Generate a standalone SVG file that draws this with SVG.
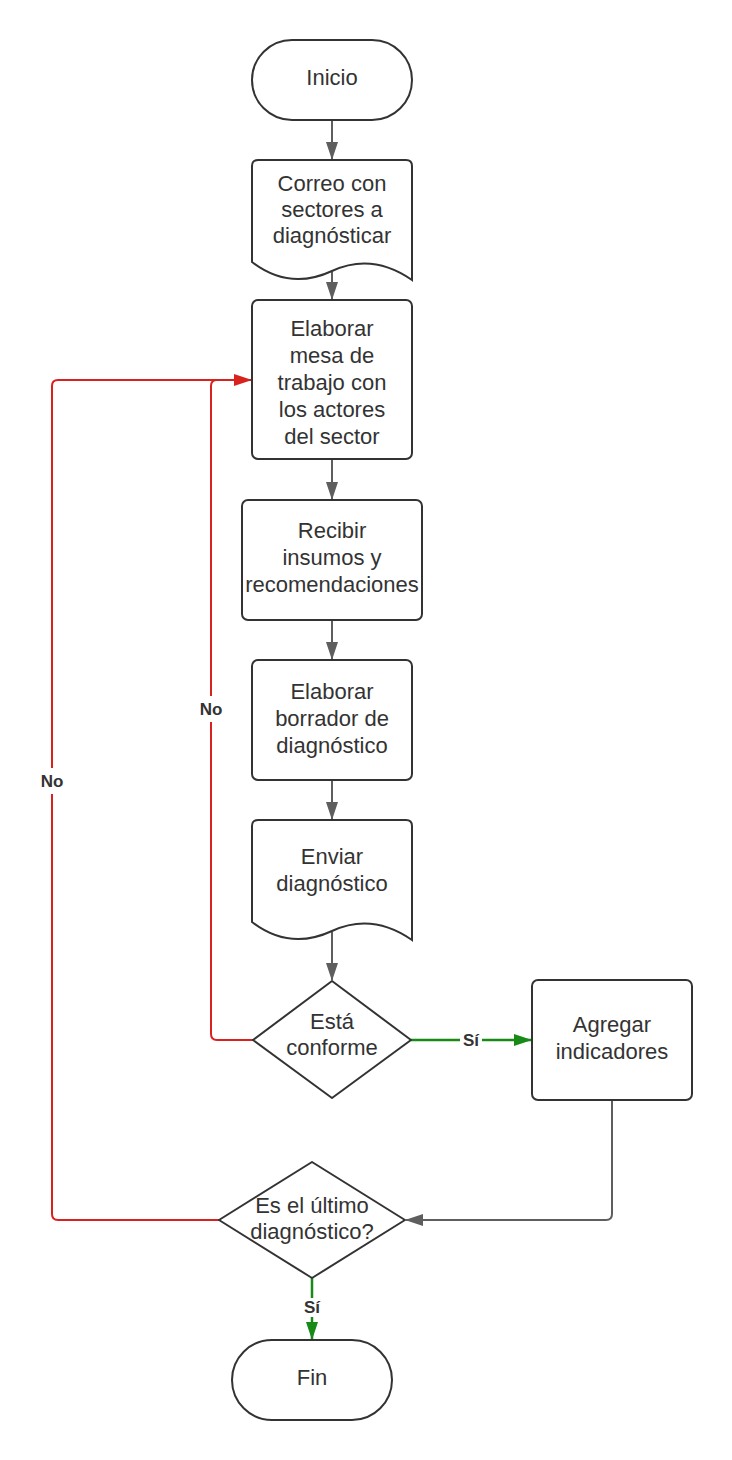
<svg xmlns="http://www.w3.org/2000/svg" width="732" height="1460" viewBox="0 0 732 1460">
<style>
.n{fill:#fff;stroke:#333;stroke-width:2}
.t{font-family:"Liberation Sans",Arial,sans-serif;font-size:22px;fill:#333;text-anchor:middle}
.l{font-family:"Liberation Sans",Arial,sans-serif;font-size:17px;font-weight:bold;fill:#333;text-anchor:middle}
.g{fill:none;stroke:#5e5e5e;stroke-width:2}
.r{fill:none;stroke:#d9221e;stroke-width:2}
.v{fill:none;stroke:#188a18;stroke-width:2.5}
</style>
<defs>
<marker id="ar" markerWidth="18" markerHeight="12" refX="17" refY="6" orient="auto" markerUnits="userSpaceOnUse" viewBox="0 0 18 12"><path d="M0,0 L18,6 L0,12 Z" fill="#d9221e"/></marker>
<marker id="av" markerWidth="18" markerHeight="12" refX="17" refY="6" orient="auto" markerUnits="userSpaceOnUse" viewBox="0 0 18 12"><path d="M0,0 L18,6 L0,12 Z" fill="#188a18"/></marker>
<marker id="ag2" markerWidth="18" markerHeight="12" refX="17" refY="6" orient="auto" markerUnits="userSpaceOnUse" viewBox="0 0 18 12"><path d="M0,0 L18,6 L0,12 Z" fill="#5e5e5e"/></marker>
</defs>
<rect width="732" height="1460" fill="#fff"/>
<g id="connectors">
<path class="g" d="M332,121 V159" marker-end="url(#ag2)"/>
<path class="g" d="M332,272 V299" marker-end="url(#ag2)"/>
<path class="g" d="M332,460 V499" marker-end="url(#ag2)"/>
<path class="g" d="M332,621 V659" marker-end="url(#ag2)"/>
<path class="g" d="M332,781 V819" marker-end="url(#ag2)"/>
<path class="g" d="M332,932 V980" marker-end="url(#ag2)"/>
<path class="g" d="M612,1101 V1214 Q612,1220 606,1220 H406" marker-end="url(#ag2)"/>
<path class="v" d="M411,1040 H531" marker-end="url(#av)"/>
<path class="v" d="M312,1278 V1339" marker-end="url(#av)"/>
<path class="r" d="M253,1040 H217 Q211,1040 211,1034 V386 Q211,380 217,380 H251" marker-end="url(#ar)"/>
<path class="r" d="M219,1220 H58 Q52,1220 52,1214 V386 Q52,380 58,380 H240"/>
<rect x="460" y="1030" width="22" height="18" fill="#fff"/>
<text class="l" x="471" y="1046">Sí</text>
<rect x="299" y="1298" width="26" height="19" fill="#fff"/>
<text class="l" x="312" y="1313">Sí</text>
<rect x="196" y="696" width="30" height="26" fill="#fff"/>
<text class="l" x="211" y="715">No</text>
<rect x="37" y="768" width="30" height="26" fill="#fff"/>
<text class="l" x="52" y="787">No</text>
</g>
<g id="inicio">
<rect class="n" x="252" y="40" width="160" height="80" rx="40" ry="40"/>
<text class="t" x="332" y="85">Inicio</text>
</g>
<g id="correo">
<path class="n" d="M252,262 C278,282 304,284 332,271 C360,258 386,262 412,280 V166 Q412,160 406,160 H258 Q252,160 252,166 Z"/>
<text class="t" x="332" y="191">Correo con</text>
<text class="t" x="332" y="217">sectores a</text>
<text class="t" x="332" y="243">diagnósticar</text>
</g>
<g id="mesa">
<rect class="n" x="252" y="300" width="160" height="159" rx="6"/>
<text class="t" x="332" y="336">Elaborar</text>
<text class="t" x="332" y="363">mesa de</text>
<text class="t" x="332" y="390">trabajo con</text>
<text class="t" x="332" y="417">los actores</text>
<text class="t" x="332" y="444">del sector</text>
</g>
<g id="recibir">
<rect class="n" x="242" y="500" width="180" height="120" rx="6"/>
<text class="t" x="332" y="538">Recibir</text>
<text class="t" x="332" y="565">insumos y</text>
<text class="t" x="332" y="592">recomendaciones</text>
</g>
<g id="borrador">
<rect class="n" x="252" y="660" width="160" height="120" rx="6"/>
<text class="t" x="332" y="699">Elaborar</text>
<text class="t" x="332" y="726">borrador de</text>
<text class="t" x="332" y="753">diagnóstico</text>
</g>
<g id="enviar">
<path class="n" d="M252,922 C278,942 304,944 332,931 C360,918 386,922 412,940 V826 Q412,820 406,820 H258 Q252,820 252,826 Z"/>
<text class="t" x="332" y="864">Enviar</text>
<text class="t" x="332" y="891">diagnóstico</text>
</g>
<g id="conforme">
<path class="n" d="M332,981 L411,1040 L332,1098 L253,1040 Z" stroke-linejoin="round"/>
<text class="t" x="332" y="1029">Está</text>
<text class="t" x="332" y="1055">conforme</text>
</g>
<g id="agregar">
<rect class="n" x="532" y="980" width="160" height="120" rx="6"/>
<text class="t" x="612" y="1032">Agregar</text>
<text class="t" x="612" y="1059">indicadores</text>
</g>
<g id="ultimo">
<path class="n" d="M312,1162 L405,1220 L312,1278 L219,1220 Z" stroke-linejoin="round"/>
<text class="t" x="312" y="1213">Es el último</text>
<text class="t" x="312" y="1239">diagnóstico?</text>
</g>
<g id="fin">
<rect class="n" x="232" y="1340" width="160" height="80" rx="40" ry="40"/>
<text class="t" x="312" y="1385">Fin</text>
</g>
</svg>
